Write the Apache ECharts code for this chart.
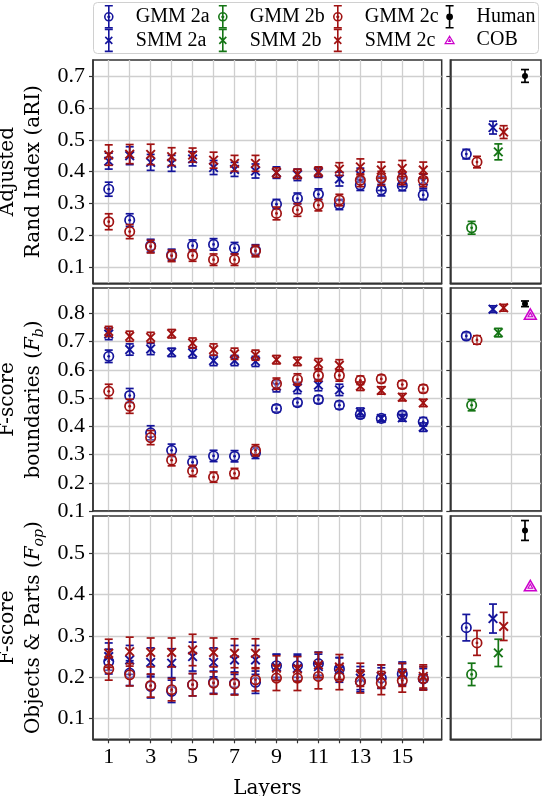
<!DOCTYPE html>
<html><head><meta charset="utf-8">
<script src="https://cdn.jsdelivr.net/npm/echarts@6/dist/echarts.min.js"></script>
<style>html,body{margin:0;padding:0;background:#fff}#c{width:542px;height:796px}</style>
</head><body><div id="c"></div>
<script>
// ---------- data ----------
const layers = [1,2,3,4,5,6,7,8,9,10,11,12,13,14,15,16];
const layerLabels = [1,3,5,7,9,11,13,15];
const ariTicks = [0.1,0.2,0.3,0.4,0.5,0.6,0.7];
const fbTicks = [0.1,0.2,0.3,0.4,0.5,0.6,0.7,0.8];
const fopTicks = [0.1,0.2,0.3,0.4,0.5];

// Adjusted Rand Index per layer
const ari_gmm2a = [0.345,0.248,0.168,0.139,0.168,0.172,0.160,0.154,0.298,0.316,0.329,0.297,0.358,0.342,0.356,0.327];
const ari_gmm2a_err = [0.022,0.020,0.020,0.018,0.018,0.018,0.018,0.017,0.015,0.017,0.017,0.016,0.017,0.018,0.016,0.015];
const ari_gmm2c = [0.243,0.212,0.165,0.136,0.137,0.124,0.124,0.151,0.269,0.280,0.295,0.311,0.373,0.379,0.379,0.373];
const ari_gmm2c_err = [0.025,0.022,0.020,0.018,0.018,0.018,0.018,0.018,0.020,0.020,0.018,0.018,0.020,0.022,0.020,0.020];
const ari_smm2a = [0.433,0.450,0.429,0.426,0.440,0.413,0.407,0.402,0.397,0.390,0.397,0.377,0.389,0.363,0.373,0.370];
const ari_smm2a_err = [0.025,0.028,0.025,0.025,0.022,0.022,0.022,0.022,0.018,0.018,0.015,0.022,0.022,0.022,0.020,0.022];
const ari_smm2c = [0.452,0.455,0.454,0.447,0.452,0.436,0.426,0.426,0.397,0.393,0.400,0.408,0.415,0.405,0.410,0.405];
const ari_smm2c_err = [0.032,0.030,0.032,0.028,0.022,0.025,0.025,0.025,0.015,0.015,0.015,0.020,0.025,0.025,0.025,0.025];

// F-score boundaries per layer
const fb_gmm2a = [0.648,0.509,0.377,0.315,0.273,0.295,0.294,0.306,0.463,0.484,0.495,0.475,0.442,0.428,0.440,0.416];
const fb_gmm2a_err = [0.022,0.025,0.025,0.022,0.020,0.020,0.020,0.020,0.012,0.013,0.013,0.013,0.013,0.010,0.012,0.015];
const fb_gmm2c = [0.524,0.471,0.360,0.280,0.242,0.220,0.233,0.315,0.551,0.566,0.580,0.580,0.563,0.568,0.548,0.533];
const fb_gmm2c_err = [0.025,0.025,0.025,0.020,0.020,0.018,0.018,0.020,0.020,0.020,0.020,0.020,0.015,0.013,0.013,0.013];
const fb_smm2a = [0.727,0.672,0.674,0.662,0.660,0.633,0.633,0.630,0.542,0.536,0.546,0.529,0.450,0.428,0.430,0.397];
const fb_smm2a_err = [0.020,0.020,0.020,0.015,0.018,0.018,0.018,0.018,0.020,0.020,0.020,0.020,0.015,0.010,0.012,0.015];
const fb_smm2c = [0.736,0.719,0.715,0.728,0.695,0.672,0.657,0.652,0.636,0.630,0.622,0.616,0.542,0.527,0.503,0.483];
const fb_smm2c_err = [0.018,0.018,0.018,0.015,0.018,0.020,0.020,0.018,0.015,0.015,0.018,0.020,0.015,0.013,0.013,0.013];

// F-score objects & parts per layer
const fop_gmm2a = [0.238,0.210,0.178,0.166,0.182,0.188,0.186,0.188,0.228,0.228,0.233,0.220,0.190,0.198,0.208,0.196];
const fop_gmm2a_err = [0.030,0.030,0.028,0.027,0.027,0.027,0.027,0.027,0.028,0.028,0.028,0.027,0.025,0.025,0.025,0.025];
const fop_gmm2c = [0.220,0.206,0.180,0.170,0.182,0.186,0.184,0.194,0.198,0.198,0.202,0.200,0.190,0.186,0.192,0.197];
const fop_gmm2c_err = [0.027,0.027,0.028,0.027,0.027,0.027,0.027,0.027,0.030,0.030,0.030,0.030,0.028,0.028,0.028,0.028];
const fop_smm2a = [0.250,0.242,0.236,0.234,0.250,0.236,0.242,0.242,0.225,0.222,0.226,0.218,0.198,0.202,0.209,0.198];
const fop_smm2a_err = [0.033,0.035,0.035,0.035,0.035,0.035,0.035,0.035,0.030,0.030,0.030,0.030,0.028,0.028,0.028,0.028];
const fop_smm2c = [0.258,0.262,0.260,0.260,0.266,0.260,0.258,0.258,0.222,0.220,0.230,0.225,0.206,0.202,0.206,0.202];
const fop_smm2c_err = [0.034,0.035,0.035,0.035,0.038,0.035,0.035,0.035,0.030,0.030,0.030,0.030,0.028,0.028,0.028,0.028];

// summary (right) panels
const rightMethods = ['GMM 2a','GMM 2b','GMM 2c','SMM 2a','SMM 2b','SMM 2c','Human','COB'];
const rightX = [0.8,1.0,1.2,1.8,2.0,2.2,3.0,3.2];
const rightGrid = [2.5];
const ari_right = [0.455,0.224,0.430,0.538,0.462,0.524,0.700,null];
const ari_right_err = [0.015,0.020,0.018,0.020,0.025,0.020,0.020,0];
const fb_right = [0.720,0.475,0.706,0.815,0.732,0.820,0.834,0.795];
const fb_right_err = [0.012,0.020,0.015,0.012,0.015,0.012,0.010,0];
const fop_right = [0.320,0.207,0.283,0.342,0.259,0.323,0.555,0.420];
const fop_right_err = [0.032,0.027,0.030,0.035,0.033,0.034,0.024,0];

// ---------- styles ----------
const COL = {'GMM 2a':'#14149b','SMM 2a':'#14149b','GMM 2b':'#157515','SMM 2b':'#157515',
             'GMM 2c':'#a01212','SMM 2c':'#a01212','Human':'#000000','COB':'#cc00cc'};
const KIND = {'GMM 2a':'gmm','GMM 2b':'gmm','GMM 2c':'gmm','SMM 2a':'smm','SMM 2b':'smm','SMM 2c':'smm','Human':'human','COB':'cob'};
const TICKF = 'Liberation Serif', NAMEF = 'DejaVu Serif';

function renderer(kind, color) {
  return function (params, api) {
    const x = api.value(0), y = api.value(1), e = api.value(2);
    const c = api.coord([x, y]);
    const ch = [];
    const st = {stroke: color, lineWidth: 1.7, fill: null};
    if (e > 0) {
      const t = api.coord([x, y + e]), b = api.coord([x, y - e]);
      const cap = 4;
      ch.push({type:'line', shape:{x1:c[0], y1:t[1], x2:c[0], y2:b[1]}, style: st});
      ch.push({type:'line', shape:{x1:c[0]-cap, y1:t[1], x2:c[0]+cap, y2:t[1]}, style: st});
      ch.push({type:'line', shape:{x1:c[0]-cap, y1:b[1], x2:c[0]+cap, y2:b[1]}, style: st});
    }
    if (kind === 'gmm') {
      ch.push({type:'circle', shape:{cx:c[0], cy:c[1], r:4.7}, style:{stroke:color, lineWidth:1.7, fill:'rgba(255,255,255,0.3)'}});
      ch.push({type:'circle', shape:{cx:c[0], cy:c[1], r:1.4}, style:{fill:color}});
    } else if (kind === 'smm') {
      const s = 4.3;
      ch.push({type:'line', shape:{x1:c[0]-s, y1:c[1]-s, x2:c[0]+s, y2:c[1]+s}, style:{stroke:color, lineWidth:1.9}});
      ch.push({type:'line', shape:{x1:c[0]-s, y1:c[1]+s, x2:c[0]+s, y2:c[1]-s}, style:{stroke:color, lineWidth:1.9}});
    } else if (kind === 'human') {
      ch.push({type:'circle', shape:{cx:c[0], cy:c[1], r:3}, style:{fill:color}});
    } else if (kind === 'cob') {
      ch.push({type:'polygon', shape:{points:[[c[0], c[1]-6],[c[0]+6, c[1]+4.5],[c[0]-6, c[1]+4.5]]}, style:{stroke:color, lineWidth:1.5, fill:'rgba(204,0,204,0.12)'}});
      ch.push({type:'polygon', shape:{points:[[c[0], c[1]-2.2],[c[0]+2.3, c[1]+2],[c[0]-2.3, c[1]+2]]}, style:{stroke:color, lineWidth:1.1, fill:null}});
    }
    return {type:'group', children: ch};
  };
}

const series = [];
function addSeries(name, gi, xs, ys, errs) {
  const data = [];
  for (let i = 0; i < xs.length; i++) if (ys[i] != null) data.push([xs[i], ys[i], errs[i]]);
  series.push({
    type:'custom', name, xAxisIndex: gi, yAxisIndex: gi, coordinateSystem:'cartesian2d',
    itemStyle:{color: COL[name]}, encode:{x:0, y:1}, data, clip:false,
    renderItem: renderer(KIND[name], COL[name]), z: 3
  });
}
const leftSets = [
  [0, {'GMM 2a':[ari_gmm2a,ari_gmm2a_err],'SMM 2a':[ari_smm2a,ari_smm2a_err],'GMM 2c':[ari_gmm2c,ari_gmm2c_err],'SMM 2c':[ari_smm2c,ari_smm2c_err]}],
  [2, {'GMM 2a':[fb_gmm2a,fb_gmm2a_err],'SMM 2a':[fb_smm2a,fb_smm2a_err],'GMM 2c':[fb_gmm2c,fb_gmm2c_err],'SMM 2c':[fb_smm2c,fb_smm2c_err]}],
  [4, {'GMM 2a':[fop_gmm2a,fop_gmm2a_err],'SMM 2a':[fop_smm2a,fop_smm2a_err],'GMM 2c':[fop_gmm2c,fop_gmm2c_err],'SMM 2c':[fop_smm2c,fop_smm2c_err]}]
];
leftSets.forEach(([gi, set]) => Object.keys(set).forEach(n => addSeries(n, gi, layers, set[n][0], set[n][1])));
[[1, ari_right, ari_right_err],[3, fb_right, fb_right_err],[5, fop_right, fop_right_err]].forEach(([gi, ys, es]) => {
  rightMethods.forEach((n, i) => addSeries(n, gi, [rightX[i]], [ys[i]], [es[i]]));
});

// ---------- layout ----------
const rows = [{top:60, height:223.3}, {top:288, height:223}, {top:516, height:223.3}];
const grids = [];
rows.forEach(r => {
  grids.push({left:93, top:r.top, width:348.7, height:r.height, show:true, borderColor:'#333', borderWidth:1.5,
    backgroundColor:'transparent', containLabel:false, outerBoundsMode:'none'});
  grids.push({left:450.3, top:r.top, width:90.7, height:r.height, show:true, borderColor:'#333', borderWidth:1.5,
    backgroundColor:'transparent', containLabel:false, outerBoundsMode:'none'});
});
const splitLine = {show:true, lineStyle:{color:'#cfcfcf', width:1.3}};
const axisLine = {show:true, lineStyle:{color:'#333', width:1.5}};
const xAxes = [], yAxes = [];
const yDefs = [
  {min:0.05, max:0.75, ticks:ariTicks, name:'{n|Adjusted}\n{n|Rand Index (aRI)}'},
  {min:0.1, max:0.89, ticks:fbTicks, name:'{n|F-score}\n{n|boundaries (}{i|F}{s|b}{n|)}'},
  {min:0.05, max:0.59, ticks:fopTicks, name:'{n|F-score}\n{n|Objects & Parts (}{i|F}{s|op}{n|)}'}
];
const nameStyle = {fontFamily:NAMEF, fontSize:20, color:'#000', lineHeight:26,
  rich:{n:{fontFamily:NAMEF, fontSize:20, lineHeight:26, color:'#000'},
        i:{fontFamily:NAMEF, fontSize:20, lineHeight:26, fontStyle:'italic', color:'#000'},
        s:{fontFamily:NAMEF, fontSize:14, lineHeight:14, fontStyle:'italic', verticalAlign:'bottom', color:'#000'}}};
yDefs.forEach((d, ri) => {
  const bottomRow = ri === 2;
  // left
  xAxes.push({type:'value', gridIndex: ri*2, min:0.25, max:16.88, axisLine,
    axisTick:{show:bottomRow, length:4, customValues:layers, lineStyle:{color:'#333', width:1.2}},
    axisLabel:{show:bottomRow, customValues:layerLabels, margin:7, fontFamily:TICKF, fontSize:22, color:'#000'},
    splitLine, name: bottomRow ? 'Layers' : '', nameLocation:'middle', nameGap:39,
    nameTextStyle:{fontFamily:NAMEF, fontSize:20, color:'#000'}});
  yAxes.push({type:'value', gridIndex: ri*2, min:d.min, max:d.max, axisLine,
    axisTick:{show:true, length:4, customValues:d.ticks, lineStyle:{color:'#333', width:1.2}},
    axisLabel:{show:true, customValues:d.ticks, margin:8, fontFamily:TICKF, fontSize:22, color:'#000',
      formatter: v => (+v).toFixed(1)},
    splitLine, name:d.name, nameLocation:'middle', nameGap:42, nameRotate:90, nameTextStyle:nameStyle});
  // right
  xAxes.push({type:'value', gridIndex: ri*2+1, min:0.2, max:3.6, axisLine,
    axisTick:{show:false, customValues:rightGrid}, axisLabel:{show:false, customValues:rightGrid}, splitLine});
  yAxes.push({type:'value', gridIndex: ri*2+1, min:d.min, max:d.max, axisLine,
    axisTick:{show:true, length:4, customValues:d.ticks, lineStyle:{color:'#333', width:1.2}},
    axisLabel:{show:false, customValues:d.ticks}, splitLine});
});

// ---------- legend ----------
const BAR = 'M-4,-11 L4,-11 M0,-11 L0,11 M-4,11 L4,11 ';
const ICON = {
  gmm: 'path://' + BAR + 'M-4,0 A4,4 0 1 1 4,0 A4,4 0 1 1 -4,0 Z M-0.8,0 A0.8,0.8 0 1 1 0.8,0 A0.8,0.8 0 1 1 -0.8,0 Z',
  smm: 'path://' + BAR + 'M-3.5,-3.5 L3.5,3.5 M-3.5,3.5 L3.5,-3.5',
  human: 'path://' + BAR + 'M-2.6,0 A2.6,2.6 0 1 1 2.6,0 A2.6,2.6 0 1 1 -2.6,0 Z',
  cob: 'path://M-4,-11 M4,11 M0,-4 L4.5,3.5 L-4.5,3.5 Z M0,-0.6 L0.9,1.2 L-0.9,1.2 Z'
};
function legItem(n) {
  const k = KIND[n];
  return {name:n, icon:ICON[k], itemStyle:{color: k === 'human' ? COL[n] : 'rgba(255,255,255,0)', borderColor:COL[n], borderWidth: k === 'cob' ? 1.2 : 1.6}};
}
const legendCols = [['GMM 2a','SMM 2a'],['GMM 2b','SMM 2b'],['GMM 2c','SMM 2c'],['Human','COB']];
const legendLefts = [104, 218, 333, 444.5];
const legends = legendCols.map((names, i) => ({
  orient:'vertical', left:legendLefts[i], top:5, itemWidth:44, itemHeight:22, itemGap:0, padding:0,
  selectedMode:false, data:names.map(legItem),
  textStyle:{fontFamily:TICKF, fontSize:20, color:'#000'}
}));

const chart = echarts.init(document.getElementById('c'), null, {renderer:'canvas'});
chart.setOption({
  animation:false, backgroundColor:'#fff',
  textStyle:{fontFamily:TICKF},
  graphic:[{type:'rect', shape:{x:93.5, y:2.5, width:445, height:51, r:4}, style:{fill:'#fff', stroke:'#d0d0d0', lineWidth:1}, z:-1}],
  legend: legends,
  grid: grids, xAxis: xAxes, yAxis: yAxes, series
});
</script></body></html>
